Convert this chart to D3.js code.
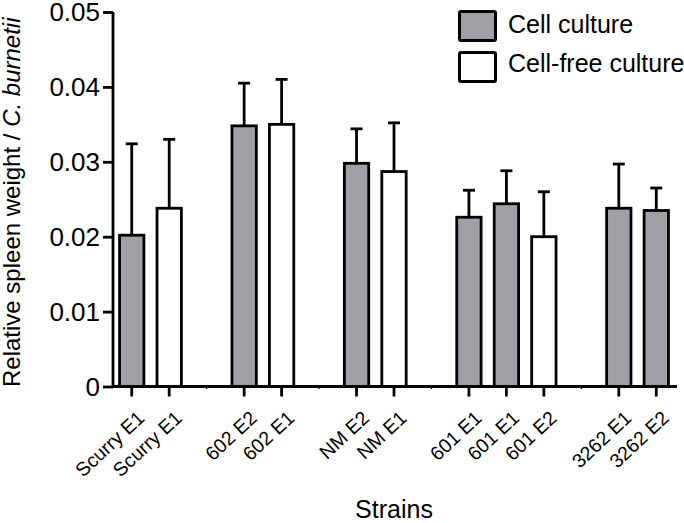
<!DOCTYPE html>
<html>
<head>
<meta charset="utf-8">
<script src="https://cdn.jsdelivr.net/npm/d3@7"></script>
<style>
  body { margin: 0; background: #ffffff; }
  svg { display: block; font-family: Arial, "Liberation Sans", Helvetica, sans-serif; }
</style>
</head>
<body>
<div id="chart"></div>
<script>
// Bar labels, in order along the x axis
const strains = ["Scurry E1", "Scurry E1", "602 E2", "602 E1", "NM E2", "NM E1",
                 "601 E1", "601 E1", "601 E2", "3262 E1", "3262 E2"];
// which cluster each bar belongs to (a gap slot is left between clusters)
const clusters = [0, 0, 1, 1, 2, 2, 3, 3, 3, 4, 4];
// culture type of each bar
const cultures = ["Cell culture", "Cell-free culture", "Cell culture", "Cell-free culture",
                  "Cell culture", "Cell-free culture", "Cell culture", "Cell culture",
                  "Cell-free culture", "Cell culture", "Cell culture"];
// mean relative spleen weight / C. burnetii
const means = [0.0202, 0.0238, 0.0348, 0.0350, 0.0298, 0.0287, 0.0226, 0.0244, 0.0200, 0.0238, 0.0235];
// upper error bar length
const errors = [0.0122, 0.0092, 0.0057, 0.0060, 0.0046, 0.0065, 0.0036, 0.0044, 0.0060, 0.0059, 0.0030];
const yTicks = [0, 0.01, 0.02, 0.03, 0.04, 0.05];
const legendItems = ["Cell culture", "Cell-free culture"];

function drawChart() {
  const width = 684;
  const height = 523;
  const x0 = 113, x1 = 675, yTop = 12, yBottom = 386.5;
  const lineW = 2.8;

  const svg = d3.select("#chart")
    .append("svg")
    .attr("width", width)
    .attr("height", height);

  // build slot keys: bars plus one empty slot between clusters
  const slots = [];
  const barSlot = [];
  strains.forEach((s, i) => {
    if (i > 0 && clusters[i] !== clusters[i - 1]) slots.push("gap" + clusters[i]);
    barSlot.push("bar" + i);
    slots.push("bar" + i);
  });

  const x = d3.scaleBand()
    .domain(slots)
    .range([x0, x1])
    .paddingInner(0.35)
    .paddingOuter(0.175);

  const y = d3.scaleLinear()
    .domain([0, 0.05])
    .range([yBottom, yTop]);

  const color = d3.scaleOrdinal()
    .domain(legendItems)
    .range(["#a09fa4", "#ffffff"]);

  const data = strains.map((s, i) => ({
    key: barSlot[i], label: s, culture: cultures[i], mean: means[i], err: errors[i]
  }));

  // bars
  svg.append("g")
    .selectAll("rect")
    .data(data)
    .join("rect")
    .attr("x", d => x(d.key))
    .attr("y", d => y(d.mean))
    .attr("width", x.bandwidth())
    .attr("height", d => y(0) - y(d.mean))
    .attr("fill", d => color(d.culture))
    .attr("stroke", "#000")
    .attr("stroke-width", lineW);

  // error bars (upper only)
  const eb = svg.append("g")
    .attr("stroke", "#000")
    .attr("stroke-width", lineW);
  data.forEach(d => {
    const cx = x(d.key) + x.bandwidth() / 2;
    eb.append("line")
      .attr("x1", cx).attr("x2", cx)
      .attr("y1", y(d.mean)).attr("y2", y(d.mean + d.err));
    eb.append("line")
      .attr("x1", cx - 6).attr("x2", cx + 6)
      .attr("y1", y(d.mean + d.err)).attr("y2", y(d.mean + d.err));
  });

  // y axis
  const yAxis = svg.append("g")
    .attr("transform", `translate(${x0},0)`)
    .call(d3.axisLeft(y).tickValues(yTicks).tickSize(10).tickSizeOuter(0)
      .tickFormat(d => d === 0 ? "0" : d3.format(".2f")(d)));
  yAxis.selectAll("path, line").attr("stroke", "#000").attr("stroke-width", lineW);
  yAxis.select(".domain").attr("d", `M0,${yTop}V${yBottom}`);
  yAxis.selectAll("text")
    .attr("x", -13)
    .attr("dy", "0.34em")
    .style("font-size", "26px")
    .style("fill", "#000")
    .style("font-family", "Arial, 'Liberation Sans', sans-serif");

  // x axis
  const xAxis = svg.append("g")
    .attr("transform", `translate(0,${yBottom})`)
    .call(d3.axisBottom(x).tickValues(barSlot).tickSize(10).tickSizeOuter(0).tickFormat(""));
  xAxis.selectAll("path, line").attr("stroke", "#000").attr("stroke-width", lineW);
  xAxis.select(".domain").attr("d", `M${x0},0H${x1 + 2}`);

  // tiny marks at the gap slots
  slots.filter(s => s.startsWith("gap")).forEach(s => {
    xAxis.append("line")
      .attr("x1", x(s) + x.bandwidth() / 2).attr("x2", x(s) + x.bandwidth() / 2)
      .attr("y1", 0).attr("y2", 2.5)
      .attr("stroke", "#000").attr("stroke-width", 1.2);
  });

  // rotated tick labels
  svg.append("g")
    .selectAll("text")
    .data(data)
    .join("text")
    .attr("transform", d => `translate(${x(d.key) + x.bandwidth() / 2 + 14},${yBottom + 33}) rotate(-43)`)
    .attr("text-anchor", "end")
    .style("font-size", "19.5px")
    .text(d => d.label);

  // x axis title
  svg.append("text")
    .attr("x", 394)
    .attr("y", 518)
    .attr("text-anchor", "middle")
    .style("font-size", "25px")
    .text("Strains");

  // y axis title
  const yt = svg.append("text")
    .attr("transform", `translate(20,387) rotate(-90)`)
    .attr("text-anchor", "start")
    .style("font-size", "24px");
  yt.append("tspan").text("Relative spleen weight / ");
  yt.append("tspan").style("font-style", "italic").text("C. burnetii");

  // legend
  const legend = svg.append("g");
  legendItems.forEach((item, i) => {
    legend.append("rect")
      .attr("x", 459.5)
      .attr("y", 11.5 + i * 41)
      .attr("width", 36)
      .attr("height", 29)
      .attr("rx", 1.5)
      .attr("fill", color(item))
      .attr("stroke", "#000")
      .attr("stroke-width", 3);
    legend.append("text")
      .attr("x", 508)
      .attr("y", 33 + i * 39)
      .style("font-size", "25px")
      .text(item);
  });
}

drawChart();
</script>
</body>
</html>
